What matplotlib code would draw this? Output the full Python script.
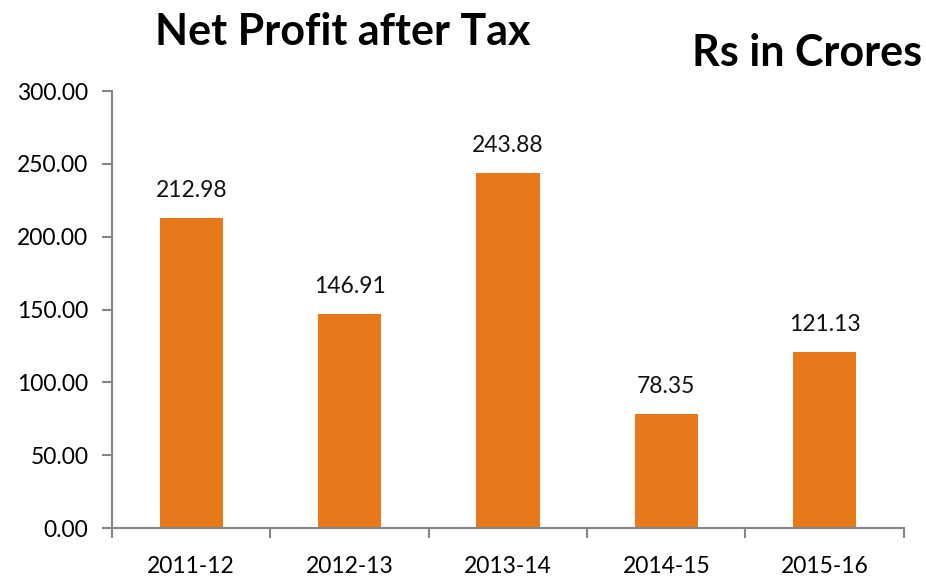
import matplotlib.pyplot as plt

# --- data ---
years = ["2011-12", "2012-13", "2013-14", "2014-15", "2015-16"]
profit = [212.98, 146.91, 243.88, 78.35, 121.13]

plt.rcParams['font.family'] = ['Lato', 'DejaVu Sans']

fig = plt.figure(figsize=(9.26, 5.76), dpi=100)
ax = fig.add_axes([0.121, 0.0833, 0.855, 0.7587])

x = range(len(years))
bars = ax.bar(x, profit, width=0.4, color="#E8791A")

for i, v in enumerate(profit):
    ax.annotate(f"{v:.2f}", (i, v), xytext=(0, 12), textcoords="offset points",
                ha="center", va="bottom", fontsize=16.5, color="#111111")

ax.set_xlim(-0.5, len(years) - 0.5)
ax.set_ylim(0, 300)
ax.set_yticks([0, 50, 100, 150, 200, 250, 300])
ax.set_yticklabels([f"{t:.2f}" for t in ax.get_yticks()], fontsize=16.5)

ax.set_xticks([i - 0.5 for i in range(len(years) + 1)])
ax.set_xticklabels([])
ax.set_xticks(list(x), minor=True)
ax.set_xticklabels(years, minor=True, fontsize=16.5)
ax.tick_params(axis="x", which="minor", length=0, pad=20)
ax.tick_params(axis="x", which="major", length=7, color="#868686", width=1.5)
ax.tick_params(axis="y", length=7, color="#868686", width=1.5, pad=10)

for s in ["top", "right"]:
    ax.spines[s].set_visible(False)
for s in ["left", "bottom"]:
    ax.spines[s].set_color("#868686")
    ax.spines[s].set_linewidth(1.5)

fig.text(0.37, 0.945, "Net Profit after Tax", ha="center", va="center",
         fontsize=31, fontweight="bold")
fig.text(0.872, 0.908, "Rs in Crores", ha="center", va="center",
         fontsize=31, fontweight="bold")

fig.savefig("out.png", dpi=100)
